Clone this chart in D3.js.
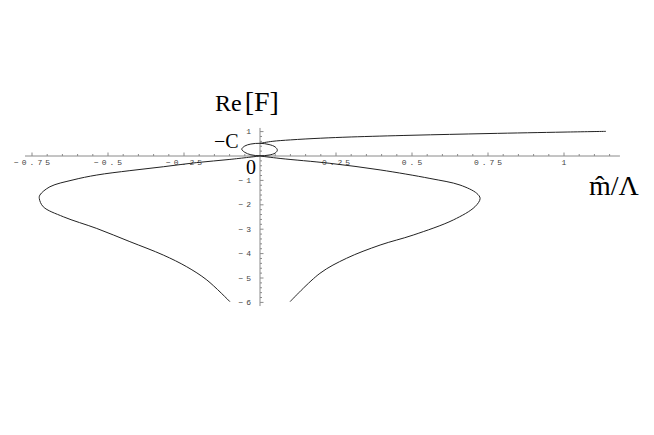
<!DOCTYPE html>
<html>
<head>
<meta charset="utf-8">
<script src="https://cdn.jsdelivr.net/npm/d3@7"></script>
<style>
  body { margin: 0; background: #fff; }
  svg { display: block; }
  .tick-label { font-family: "Liberation Mono", monospace; font-size: 8px; fill: #444; letter-spacing: 3px; }
  .big { font-family: "Liberation Serif", serif; fill: #000; }
</style>
</head>
<body>
<script>
// Width and height of page
var width = 654;
var height = 435;

// tick values on both axes
var xMajor = [-0.75, -0.5, -0.25, 0.25, 0.5, 0.75, 1];
var xLabels = ["\u22120.75", "\u22120.5", "\u22120.25", "0.25", "0.5", "0.75", "1"];
var yMajor = [1, -1, -2, -3, -4, -5, -6];
var yLabels = ["1", "\u22121", "\u22122", "\u22123", "\u22124", "\u22125", "\u22126"];

// curves, [m/Lambda, Re F]
var upperBranch = [[0, 0.52], [0.04, 0.6], [0.1, 0.66], [0.2, 0.73], [0.3, 0.78], [0.5, 0.85],
                   [0.75, 0.92], [1.0, 0.98], [1.138, 1.01]];
var loop = [[0, 0.52], [-0.03, 0.49], [-0.05, 0.41], [-0.06, 0.28], [-0.05, 0.15], [-0.03, 0.05],
            [0, 0.01], [0.03, 0.04], [0.05, 0.12], [0.057, 0.24], [0.05, 0.37], [0.03, 0.47]];
var leftBranch = [[0, 0], [-0.099, -0.14], [-0.208, -0.27], [-0.318, -0.44], [-0.428, -0.60],
                  [-0.537, -0.78], [-0.615, -0.98], [-0.691, -1.26], [-0.724, -1.60], [-0.726, -1.74],
                  [-0.713, -2.08], [-0.647, -2.49], [-0.537, -2.97], [-0.428, -3.51], [-0.318, -4.06],
                  [-0.241, -4.54], [-0.175, -5.08], [-0.099, -5.97]];
var rightBranch = [[0, 0], [0.066, -0.10], [0.23, -0.30], [0.395, -0.57], [0.559, -0.92],
                   [0.658, -1.19], [0.713, -1.53], [0.724, -1.74], [0.707, -2.08], [0.636, -2.62],
                   [0.504, -3.24], [0.395, -3.65], [0.285, -4.19], [0.197, -4.81], [0.099, -5.97]];

// scales: zero at (260,156)
var x = d3.scaleLinear().domain([0, 1]).range([260, 564]);
var y = d3.scaleLinear().domain([0, 1]).range([156, 131.6]);

var svg = d3.select("body").append("svg")
            .attr("width", width)
            .attr("height", height);

var axisColor = "#8a8a8a";

// x axis line
svg.append("line")
   .attr("x1", x(-0.773)).attr("x2", x(1.184))
   .attr("y1", y(0)).attr("y2", y(0))
   .style("stroke", axisColor).style("stroke-width", 1);

// minor x ticks every 0.05
d3.range(-0.75, 1.19, 0.05).forEach(function(v) {
    v = Math.round(v * 100) / 100;
    if (Math.abs(v) < 1e-6) return;
    var major = Math.abs(v * 4 - Math.round(v * 4)) < 1e-6;
    svg.append("line")
       .attr("x1", x(v)).attr("x2", x(v))
       .attr("y1", y(0)).attr("y2", y(0) - (major ? 3.5 : 2))
       .style("stroke", axisColor).style("stroke-width", 1);
});

svg.selectAll(".xlab")
   .data(xMajor)
   .enter()
   .append("text")
   .attr("class", "tick-label")
   .attr("x", function(d) { return x(d) + 1.5; })
   .attr("y", y(0) + 9)
   .attr("text-anchor", "middle")
   .text(function(d, i) { return xLabels[i]; });

// y axis line
svg.append("line")
   .attr("x1", x(0)).attr("x2", x(0))
   .attr("y1", y(1.15)).attr("y2", y(-6.15))
   .style("stroke", axisColor).style("stroke-width", 1);

// minor y ticks every 0.2
d3.range(-6, 1.1, 0.2).forEach(function(v) {
    v = Math.round(v * 10) / 10;
    if (Math.abs(v) < 1e-6) return;
    var major = Math.abs(v - Math.round(v)) < 1e-6;
    svg.append("line")
       .attr("x1", x(0)).attr("x2", x(0) + (major ? 3.5 : 2))
       .attr("y1", y(v)).attr("y2", y(v))
       .style("stroke", axisColor).style("stroke-width", 1);
});

svg.selectAll(".ylab")
   .data(yMajor)
   .enter()
   .append("text")
   .attr("class", "tick-label")
   .attr("x", x(0) - 6)
   .attr("y", function(d) { return y(d) + 2.5; })
   .attr("text-anchor", "end")
   .text(function(d, i) { return yLabels[i]; });

// curves
var line = d3.line()
             .x(function(d) { return x(d[0]); })
             .y(function(d) { return y(d[1]); })
             .curve(d3.curveCatmullRom.alpha(0.5));

[upperBranch, leftBranch, rightBranch].forEach(function(pts) {
    svg.append("path")
       .attr("d", line(pts))
       .style("fill", "none")
       .style("stroke", "#222")
       .style("stroke-width", 1);
});

svg.append("path")
   .attr("d", line.curve(d3.curveCatmullRomClosed.alpha(0.5))(loop))
   .style("fill", "none")
   .style("stroke", "#222")
   .style("stroke-width", 1);

// labels
var reLabel = svg.append("text").attr("class", "big")
                 .attr("x", 215).attr("y", 111);
reLabel.append("tspan").style("font-size", "24px").text("Re");
reLabel.append("tspan").attr("dx", 3).style("font-size", "28px").text("[F]");

svg.append("text").attr("class", "big")
   .attr("x", 214).attr("y", 148)
   .style("font-size", "20px")
   .text("\u2212C");

svg.append("text").attr("class", "big")
   .attr("x", 246).attr("y", 174)
   .style("font-size", "20px")
   .text("0");

svg.append("text").attr("class", "big")
   .attr("x", 589).attr("y", 195)
   .style("font-size", "28px")
   .text("m\u0302/\u039B");
</script>
</body>
</html>
